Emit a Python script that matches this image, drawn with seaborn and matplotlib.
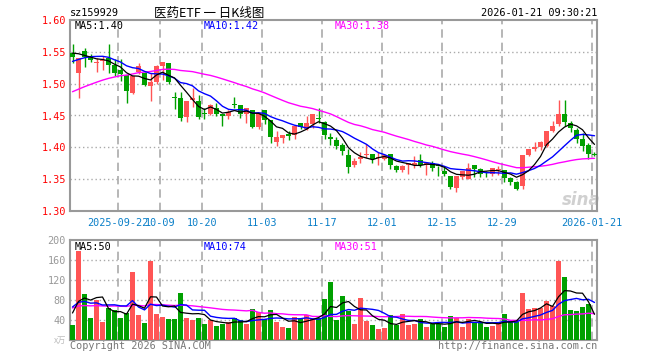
import numpy as np
import pandas as pd
import seaborn as sns
import matplotlib
matplotlib.use("Agg")
import matplotlib.pyplot as plt

# daily bars, 2025-09-10 .. 2026-01-21
opens = [1.548, 1.517, 1.552, 1.542, 1.533, 1.535, 1.540, 1.529, 1.521, 1.513,
         1.485, 1.518, 1.517, 1.496, 1.502, 1.527, 1.532, 1.479, 1.477, 1.447,
         1.475, 1.472, 1.454, 1.452, 1.462, 1.453, 1.449, 1.468, 1.467, 1.453,
         1.458, 1.432, 1.459, 1.443, 1.408, 1.415, 1.421, 1.420, 1.438, 1.429,
         1.437, 1.446, 1.440, 1.417, 1.411, 1.404, 1.388, 1.372, 1.381, 1.388,
         1.389, 1.384, 1.382, 1.389, 1.371, 1.364, 1.372, 1.373, 1.380, 1.372,
         1.375, 1.371, 1.363, 1.355, 1.336, 1.353, 1.351, 1.373, 1.366, 1.362,
         1.358, 1.364, 1.364, 1.352, 1.346, 1.339, 1.388, 1.397, 1.401, 1.402,
         1.426, 1.436, 1.452, 1.439, 1.428, 1.413, 1.403, 1.389]
highs = [1.563, 1.540, 1.556, 1.547, 1.541, 1.544, 1.562, 1.539, 1.539, 1.513,
         1.512, 1.532, 1.518, 1.517, 1.529, 1.534, 1.532, 1.487, 1.487, 1.473,
         1.493, 1.482, 1.462, 1.468, 1.470, 1.453, 1.458, 1.479, 1.467, 1.462,
         1.459, 1.455, 1.459, 1.443, 1.426, 1.420, 1.426, 1.434, 1.438, 1.449,
         1.453, 1.461, 1.441, 1.423, 1.416, 1.407, 1.397, 1.384, 1.392, 1.405,
         1.389, 1.392, 1.390, 1.390, 1.373, 1.372, 1.375, 1.387, 1.389, 1.376,
         1.379, 1.371, 1.369, 1.355, 1.355, 1.363, 1.376, 1.373, 1.367, 1.363,
         1.368, 1.370, 1.364, 1.353, 1.347, 1.388, 1.397, 1.408, 1.410, 1.426,
         1.441, 1.475, 1.474, 1.441, 1.431, 1.423, 1.407, 1.392]
lows = [1.532, 1.478, 1.526, 1.534, 1.518, 1.521, 1.517, 1.512, 1.504, 1.470,
        1.483, 1.515, 1.496, 1.472, 1.499, 1.505, 1.500, 1.460, 1.441, 1.440,
        1.463, 1.444, 1.445, 1.451, 1.449, 1.433, 1.445, 1.461, 1.446, 1.438,
        1.431, 1.429, 1.437, 1.407, 1.402, 1.407, 1.411, 1.413, 1.429, 1.428,
        1.431, 1.439, 1.413, 1.404, 1.398, 1.388, 1.360, 1.369, 1.376, 1.384,
        1.376, 1.372, 1.380, 1.366, 1.362, 1.362, 1.358, 1.368, 1.369, 1.356,
        1.363, 1.355, 1.355, 1.334, 1.330, 1.350, 1.350, 1.354, 1.353, 1.353,
        1.355, 1.356, 1.346, 1.341, 1.333, 1.335, 1.387, 1.394, 1.396, 1.401,
        1.424, 1.434, 1.434, 1.424, 1.407, 1.394, 1.382, 1.387]
closes = [1.542, 1.540, 1.542, 1.537, 1.534, 1.537, 1.529, 1.516, 1.515, 1.489,
          1.512, 1.527, 1.498, 1.503, 1.528, 1.534, 1.503, 1.477, 1.446, 1.473,
          1.477, 1.448, 1.453, 1.466, 1.453, 1.449, 1.455, 1.466, 1.453, 1.462,
          1.432, 1.454, 1.443, 1.416, 1.416, 1.420, 1.418, 1.434, 1.432, 1.438,
          1.453, 1.444, 1.419, 1.413, 1.402, 1.394, 1.369, 1.379, 1.385, 1.389,
          1.381, 1.385, 1.388, 1.373, 1.365, 1.370, 1.375, 1.375, 1.373, 1.375,
          1.367, 1.370, 1.358, 1.338, 1.355, 1.363, 1.367, 1.366, 1.358, 1.359,
          1.368, 1.366, 1.352, 1.345, 1.334, 1.388, 1.397, 1.401, 1.408, 1.426,
          1.433, 1.452, 1.440, 1.431, 1.413, 1.402, 1.389, 1.388]
volumes = [30, 178, 92, 44, 80, 36, 64, 60, 44, 54,
           136, 50, 34, 158, 52, 46, 42, 42, 94, 44,
           40, 44, 32, 40, 28, 32, 36, 44, 40, 32,
           62, 56, 42, 60, 36, 26, 24, 46, 42, 50,
           42, 44, 82, 117, 40, 88, 58, 32, 84, 38,
           30, 22, 24, 50, 30, 52, 30, 32, 42, 26,
           32, 32, 26, 48, 44, 26, 42, 36, 36, 26,
           28, 36, 52, 38, 36, 94, 62, 64, 64, 78,
           68, 158, 126, 60, 58, 66, 72, 1]

# sessions before the window (estimated), only used to seed the moving averages
prior_closes = [1.420, 1.425, 1.430, 1.430, 1.440, 1.445, 1.450, 1.455, 1.460, 1.460,
                1.465, 1.470, 1.475, 1.480, 1.485, 1.490, 1.490, 1.495, 1.500, 1.505,
                1.510, 1.515, 1.520, 1.530, 1.535, 1.545, 1.555, 1.550, 1.548]
prior_volumes = [55, 70, 60, 65, 58, 72, 50, 66, 61, 68,
                 59, 64, 70, 57, 62, 66, 60, 71, 63, 63,
                 85, 72, 80, 75, 78, 62, 58, 65, 55]

tick_pos = [8, 15, 22, 32, 42, 52, 62, 72, 87]
tick_labels = ["2025-09-22", "10-09", "10-20", "11-03", "11-17",
               "12-01", "12-15", "12-29", "2026-01-21"]
price_ticks = [1.30, 1.35, 1.40, 1.45, 1.50, 1.55, 1.60]
vol_ticks = [40, 80, 120, 160, 200]

RED = "#ff5555"
GREEN = "#00a000"
GRID = "#aaaaaa"
FRAME = "#999999"

sns.set_theme(style="white")
plt.rcParams["font.family"] = ["DejaVu Sans Mono", "Noto Sans CJK SC"]

df = pd.DataFrame({"open": opens, "high": highs, "low": lows,
                   "close": closes, "volume": volumes})
n = len(df)
df["x"] = np.arange(n)
colors = np.where(df["close"] >= df["open"], RED, GREEN)

all_close = pd.Series(prior_closes + closes)
all_vol = pd.Series(prior_volumes + volumes)
for w in (5, 10, 30):
    df[f"ma{w}"] = all_close.rolling(w).mean().iloc[-n:].to_numpy()
    df[f"vma{w}"] = all_vol.rolling(w).mean().iloc[-n:].to_numpy()

W, H = 660, 360
fig = plt.figure(figsize=(W / 100, H / 100), dpi=100)
fig.patch.set_facecolor("white")


def box(l, t, r, b):
    return [l / W, 1 - b / H, (r - l) / W, (b - t) / H]


def px(x, y):
    return x / W, 1 - y / H


ax = fig.add_axes(box(70, 20, 597, 211))
axv = fig.add_axes(box(70, 240, 597, 340))
x_lo, x_hi = -2.5 / 6, (597 - 72.5) / 6
edge = 2.5 / 6

for a in (ax, axv):
    a.set_xlim(x_lo, x_hi)
    for s in a.spines.values():
        s.set_color(FRAME)
        s.set_linewidth(1.5)
    for p in tick_pos:
        a.axvline(p - edge, color=GRID, ls=(0, (5, 3)), lw=1.2, zorder=1)

# price panel
for y in price_ticks[1:-1]:
    ax.axhline(y, color=GRID, ls=(0, (1, 2)), lw=1, zorder=1)
ax.vlines(df["x"], df["low"], df["high"], colors=colors, lw=1, zorder=3)
body = (df["close"] - df["open"]).abs().clip(lower=0.0016)
ax.bar(df["x"], body, bottom=df[["open", "close"]].min(axis=1), width=0.75,
       color=colors, linewidth=0, zorder=4)
sns.lineplot(data=df, x="x", y="ma30", ax=ax, color="#ff00ff", lw=1, zorder=5)
sns.lineplot(data=df, x="x", y="ma10", ax=ax, color="#0000ff", lw=1, zorder=5)
sns.lineplot(data=df, x="x", y="ma5", ax=ax, color="black", lw=0.9, zorder=6)
ax.set_ylim(1.30, 1.60)
ax.set_yticks(price_ticks)
ax.set_yticklabels([f"{v:.2f}" for v in price_ticks], color="red", fontsize=7.3)
ax.set_xticks([p - edge for p in tick_pos])
ax.set_xticklabels(tick_labels, color="#0a7fc8", fontsize=7.3)
ax.tick_params(axis="y", length=0, pad=3)
ax.tick_params(axis="x", length=0, pad=5)
ax.set_xlabel("")
ax.set_ylabel("")
ax.text(0.97, 0.06, "sina", transform=ax.transAxes, ha="center", va="center",
        fontsize=12, fontweight="bold", fontstyle="italic", color="#d0d0d0",
        family="DejaVu Sans", zorder=2)

# volume panel
for y in vol_ticks[:-1]:
    axv.axhline(y, color=GRID, ls=(0, (1, 2)), lw=1, zorder=1)
axv.bar(df["x"], df["volume"], width=0.83, color=colors, linewidth=0, zorder=3)
sns.lineplot(data=df, x="x", y="vma30", ax=axv, color="#ff00ff", lw=1, zorder=5)
sns.lineplot(data=df, x="x", y="vma10", ax=axv, color="#0000ff", lw=1, zorder=5)
sns.lineplot(data=df, x="x", y="vma5", ax=axv, color="black", lw=0.9, zorder=6)
axv.set_ylim(0, 200)
axv.set_yticks(vol_ticks)
axv.set_yticklabels([str(v) for v in vol_ticks], color="#999999", fontsize=7.3)
axv.set_xticks([])
axv.tick_params(axis="y", length=0, pad=3)
axv.set_xlabel("")
axv.set_ylabel("")

# texts around the panels
fig.text(*px(70, 13.5), "sz159929", ha="left", va="center", fontsize=7.4, color="black")
fig.text(*px(209, 13), "医药ETF 一 日K线图", ha="center", va="center", fontsize=9,
         color="black", family=["Noto Sans CJK SC", "DejaVu Sans"])
fig.text(*px(597, 13.5), "2026-01-21 09:30:21", ha="right", va="center",
         fontsize=7.4, color="black")
fig.text(*px(75, 26), "MA5:1.40", ha="left", va="center", fontsize=7.3, color="black")
fig.text(*px(204, 26), "MA10:1.42", ha="left", va="center", fontsize=7.3, color="#0000ff")
fig.text(*px(335, 26), "MA30:1.38", ha="left", va="center", fontsize=7.3, color="#ff00ff")
fig.text(*px(75, 246.5), "MA5:50", ha="left", va="center", fontsize=7.3, color="black")
fig.text(*px(204, 246.5), "MA10:74", ha="left", va="center", fontsize=7.3, color="#0000ff")
fig.text(*px(335, 246.5), "MA30:51", ha="left", va="center", fontsize=7.3, color="#ff00ff")
fig.text(*px(66, 340), "x万", ha="right", va="center", fontsize=6, color="#bbbbbb",
         family=["Noto Sans CJK SC", "DejaVu Sans"])
fig.text(*px(70, 346), "Copyright 2026 SINA.COM", ha="left", va="center",
         fontsize=7.3, color="#777777")
fig.text(*px(597, 346), "http://finance.sina.com.cn", ha="right", va="center",
         fontsize=7.3, color="#777777")

fig.savefig("out.png", dpi=100, facecolor="white")
